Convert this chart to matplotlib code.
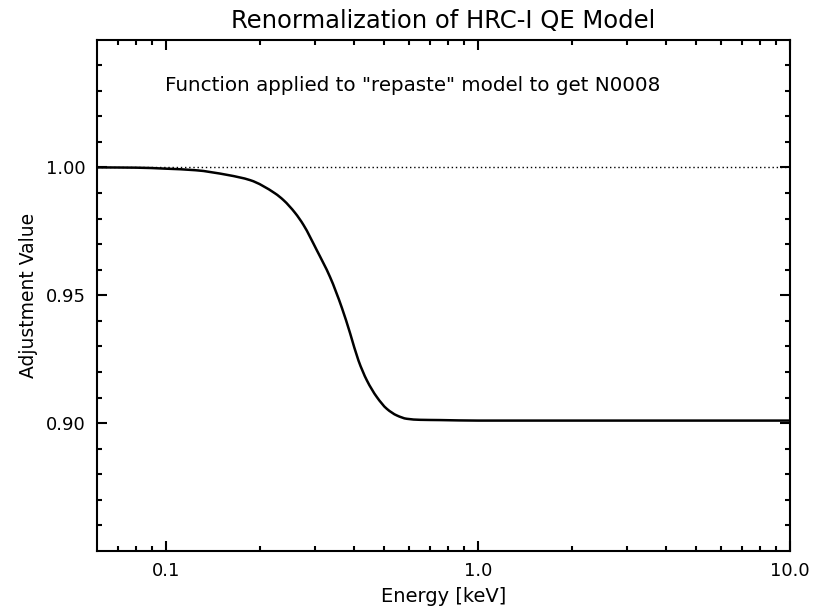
import matplotlib
matplotlib.use("Agg")
import matplotlib.pyplot as plt
import numpy as np
from matplotlib.path import Path
from matplotlib.patches import PathPatch
from matplotlib.ticker import FixedLocator, NullFormatter

# renormalization curve (energy in keV, adjustment factor)
energy = [0.06, 0.08, 0.10, 0.124, 0.158, 0.186, 0.2236, 0.2377, 0.259,
          0.2755, 0.304, 0.335, 0.366, 0.389, 0.4134, 0.440, 0.4735,
          0.5097, 0.549, 0.591, 0.652, 0.755, 1.0, 10.0]
adjustment = [1.0000, 0.9999, 0.9995, 0.9989, 0.9970, 0.9950, 0.9898,
              0.9872, 0.9822, 0.9775, 0.9676, 0.9572, 0.9450, 0.9350,
              0.9245, 0.9167, 0.9102, 0.9056, 0.9030, 0.9017, 0.9013,
              0.9012, 0.9010, 0.9010]

reference_level = 1.0

x_major = [0.1, 1.0, 10.0]
x_major_labels = ["0.1", "1.0", "10.0"]
x_minor = [0.07, 0.08, 0.09, 0.2, 0.3, 0.4, 0.5, 0.6, 0.7, 0.8, 0.9,
           2, 3, 4, 5, 6, 7, 8, 9]
y_major = [0.90, 0.95, 1.00]
y_major_labels = ["0.90", "0.95", "1.00"]
y_minor = [0.86, 0.87, 0.88, 0.89, 0.91, 0.92, 0.93, 0.94, 0.96, 0.97,
           0.98, 0.99, 1.01, 1.02, 1.03, 1.04]


def smooth_log_path(x, y):
    """Monotone cubic (Fritsch-Carlson) through the points, built in
    log10(x) space and returned as a Bezier path in data coordinates."""
    lx = np.log10(np.asarray(x, float))
    yy = np.asarray(y, float)
    h = np.diff(lx)
    d = np.diff(yy) / h
    m = np.zeros_like(yy)
    m[0], m[-1] = d[0], d[-1]
    for i in range(1, len(yy) - 1):
        if d[i - 1] * d[i] <= 0:
            m[i] = 0.0
        else:
            w1 = 2 * h[i] + h[i - 1]
            w2 = h[i] + 2 * h[i - 1]
            m[i] = (w1 + w2) / (w1 / d[i - 1] + w2 / d[i])
    verts = [(10 ** lx[0], yy[0])]
    codes = [Path.MOVETO]
    for i in range(len(h)):
        c1 = (lx[i] + h[i] / 3, yy[i] + m[i] * h[i] / 3)
        c2 = (lx[i + 1] - h[i] / 3, yy[i + 1] - m[i + 1] * h[i] / 3)
        verts += [(10 ** c1[0], c1[1]), (10 ** c2[0], c2[1]),
                  (10 ** lx[i + 1], yy[i + 1])]
        codes += [Path.CURVE4] * 3
    return Path(verts, codes)


plt.rcParams["font.family"] = ["DejaVu Sans"]

fig = plt.figure(figsize=(8.14, 6.10), dpi=100)
ax = fig.add_axes([0.1192, 0.0967, 0.8513, 0.8385])

ax.set_xscale("log")
ax.set_xlim(0.06, 10.0)
ax.set_ylim(0.85, 1.05)

ax.add_patch(PathPatch(smooth_log_path(energy, adjustment), facecolor="none",
                       edgecolor="black", lw=1.8, capstyle="butt"))
ax.axhline(reference_level, color="black", ls=(0, (1, 2)), lw=1.0)

ax.xaxis.set_major_locator(FixedLocator(x_major))
ax.set_xticklabels(x_major_labels)
ax.xaxis.set_minor_locator(FixedLocator(x_minor))
ax.xaxis.set_minor_formatter(NullFormatter())
ax.yaxis.set_major_locator(FixedLocator(y_major))
ax.set_yticklabels(y_major_labels)
ax.yaxis.set_minor_locator(FixedLocator(y_minor))

ax.tick_params(which="both", direction="in", top=True, right=True,
               width=1.5, labelsize=13, color="black")
ax.tick_params(which="major", length=7.5, pad=8)
ax.tick_params(which="minor", length=3.8)
for spine in ax.spines.values():
    spine.set_linewidth(1.5)

ax.set_xlabel("Energy [keV]", fontsize=14, labelpad=5)
ax.set_ylabel("Adjustment Value", fontsize=13.5, labelpad=6)
ax.set_title("Renormalization of HRC-I QE Model", fontsize=17.5, pad=8)

ax.text(0.098, 0.911, 'Function applied to "repaste" model to get N0008',
        transform=ax.transAxes, fontsize=14.3, ha="left", va="center")

fig.savefig("out.png", dpi=100)
